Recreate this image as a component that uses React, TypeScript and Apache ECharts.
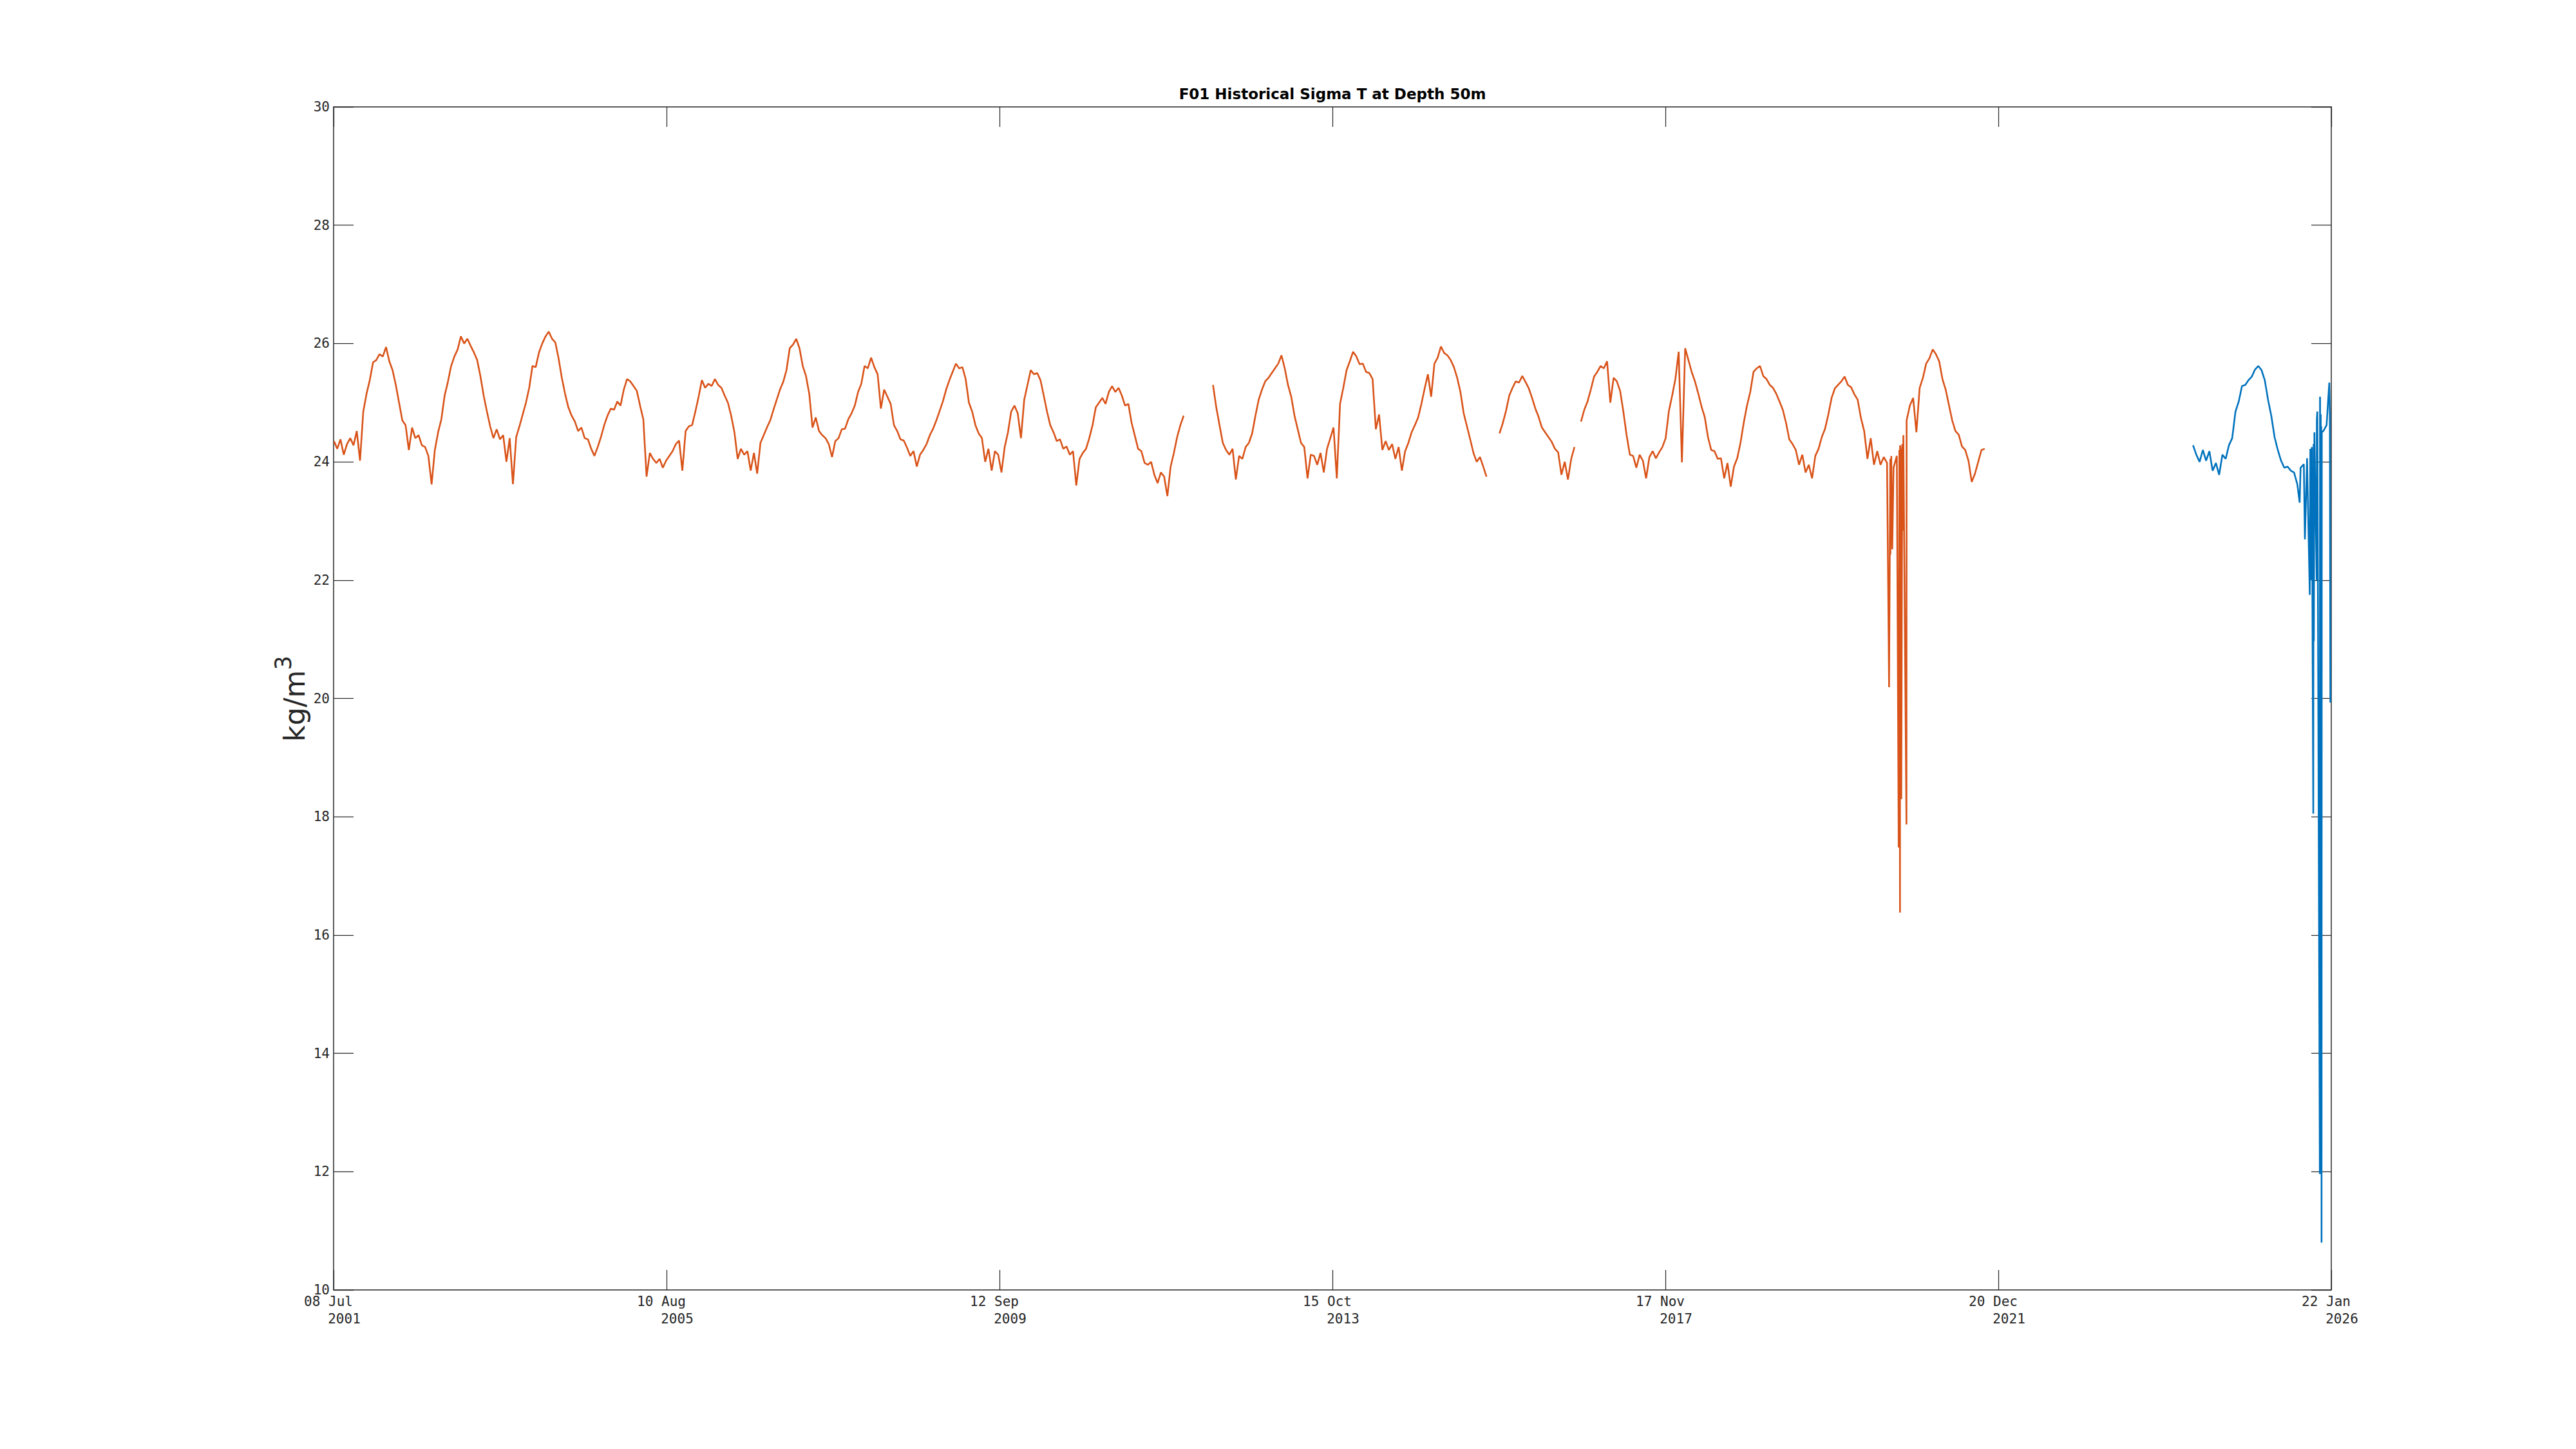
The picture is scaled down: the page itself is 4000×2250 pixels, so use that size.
import React, { useEffect, useRef } from "react";
import * as echarts from "echarts";

// ---------- axis definition ----------
const AXIS_START_UTC = Date.UTC(2001, 6, 8); // 08 Jul 2001
const AXIS_SPAN_DAYS = 8964; // to 22 Jan 2026
const TICK_DAYS = 1494;
const MONTHS = ["Jan", "Feb", "Mar", "Apr", "May", "Jun", "Jul", "Aug", "Sep", "Oct", "Nov", "Dec"];
const Y_MIN = 10;
const Y_MAX = 30;
const Y_STEP = 2;

const TITLE = "F01 Historical Sigma T at Depth 50m";

// ---------- data (decimal years, sampled every 0.04 yr) ----------
const SAMPLE_STEP = 0.04;

// historical mooring (orange)
const hist2001Start = 2001.52;
const hist2001 = [
  24.35, 24.22, 24.38, 24.12, 24.30, 24.40, 24.28, 24.52, 24.02, 24.85,
  25.15, 25.38, 25.68, 25.72, 25.82, 25.78, 25.94, 25.70, 25.55, 25.30,
  25.00, 24.70, 24.62, 24.20, 24.58, 24.40, 24.45, 24.28, 24.25, 24.10,
  23.62, 24.20, 24.50, 24.72, 25.12, 25.35, 25.62, 25.78, 25.90, 26.12,
  26.00, 26.08, 25.96, 25.85, 25.72, 25.45, 25.12, 24.85, 24.60, 24.40,
  24.55, 24.38, 24.45, 24.00, 24.40, 23.62, 24.42, 24.60, 24.80, 25.00,
  25.25, 25.62, 25.60, 25.85, 26.00, 26.12, 26.20, 26.08, 26.02, 25.75,
  25.42, 25.15, 24.92, 24.78, 24.68, 24.52, 24.58, 24.40, 24.38, 24.22,
  24.10, 24.25, 24.42, 24.62, 24.78, 24.90, 24.88, 25.02, 24.95, 25.22,
  25.40, 25.36, 25.28, 25.20, 24.95, 24.72, 23.75, 24.15, 24.05, 23.98,
  24.05, 23.90, 24.02, 24.10, 24.18, 24.30, 24.36, 23.85, 24.52, 24.60,
  24.62, 24.85, 25.10, 25.38, 25.25, 25.32, 25.28, 25.40, 25.30, 25.25,
  25.12, 25.00, 24.78, 24.50, 24.05, 24.22, 24.12, 24.18, 23.85, 24.15,
  23.80, 24.32, 24.45, 24.58, 24.70, 24.88, 25.05, 25.22, 25.35, 25.55,
  25.92, 25.98, 26.08, 25.92, 25.62, 25.45, 25.15, 24.58, 24.75, 24.52,
  24.45, 24.40, 24.30, 24.08, 24.35, 24.40, 24.55,
];

const hist2007Start = 2007.8;
const hist2007 = [
  24.56, 24.72, 24.82, 24.95, 25.18, 25.32, 25.62, 25.58, 25.76, 25.60,
  25.48, 24.90, 25.22, 25.10, 24.98, 24.62, 24.52, 24.38, 24.36, 24.24,
  24.10, 24.18, 23.92, 24.12, 24.20, 24.30, 24.45, 24.56, 24.70, 24.86,
  25.02, 25.22, 25.38, 25.52, 25.66, 25.58, 25.60, 25.40, 25.00, 24.85,
  24.62, 24.48, 24.40, 24.00, 24.22, 23.85, 24.18, 24.12, 23.82, 24.25,
  24.50, 24.85, 24.95, 24.82, 24.40, 25.05, 25.30, 25.55, 25.48, 25.50,
  25.38, 25.12, 24.85, 24.62, 24.50, 24.35, 24.38, 24.22, 24.26, 24.12,
  24.18, 23.60, 24.05, 24.15, 24.22, 24.40, 24.62, 24.92, 25.00, 25.08,
  24.98, 25.18, 25.28, 25.18, 25.25, 25.12, 24.95, 24.98, 24.66, 24.44,
  24.22, 24.18, 23.98, 23.95, 24.00, 23.78, 23.64, 23.82, 23.75, 23.42,
  23.92, 24.15, 24.42, 24.62, 24.78,
];

const hist2012Start = 2012.32;
const hist2012 = [
  25.30, 24.92, 24.62, 24.32, 24.20, 24.12, 24.22,
  23.70, 24.10, 24.05, 24.25, 24.32, 24.48, 24.78, 25.05, 25.22, 25.36,
  25.42, 25.50, 25.58, 25.66, 25.80, 25.58, 25.30, 25.10, 24.78, 24.55,
  24.32, 24.25, 23.72, 24.12, 24.10, 23.95, 24.15, 23.82, 24.22, 24.40,
  24.58, 23.72, 24.98, 25.25, 25.55, 25.70, 25.86,
];

const hist2014Start = 2014.08;
const hist2014 = [
  25.78, 25.65, 25.66, 25.52, 25.50, 25.40, 24.55, 24.80, 24.20, 24.35,
  24.20, 24.30, 24.05, 24.25, 23.85, 24.18, 24.32, 24.50, 24.62, 24.75,
  24.98, 25.24, 25.48, 25.10, 25.66, 25.76, 25.95, 25.84, 25.80, 25.72,
  25.60, 25.42, 25.18, 24.82, 24.60, 24.38, 24.15, 24.00, 24.08, 23.92,
  23.75,
];

const hist2015Start = 2015.84;
const hist2015 = [
  24.48, 24.65, 24.86, 25.12, 25.25, 25.36, 25.34, 25.45, 25.35, 25.24,
  25.08, 24.90, 24.76, 24.58, 24.50, 24.42, 24.34, 24.22, 24.16, 23.78,
  24.00, 23.70, 24.05, 24.25,
];

const hist2016Start = 2016.84;
const hist2016 = [
  24.68, 24.88, 25.02, 25.22, 25.44, 25.52, 25.62, 25.58, 25.70, 25.00,
  25.42, 25.36, 25.20, 24.85, 24.45, 24.12, 24.10, 23.90, 24.12, 24.02,
  23.72, 24.08, 24.18, 24.06, 24.16, 24.25, 24.40, 24.86, 25.12, 25.40,
  25.86, 23.99, 25.92, 25.72, 25.52, 25.36, 25.16, 24.94, 24.76, 24.42,
  24.20, 24.18, 24.05, 24.06, 23.72, 23.98, 23.58, 23.92, 24.06, 24.32,
  24.66, 24.95, 25.18, 25.52, 25.58, 25.62, 25.45, 25.40, 25.30, 25.25,
  25.15, 25.02, 24.88, 24.66, 24.38, 24.30, 24.20, 23.95, 24.12, 23.82,
  23.95, 23.72, 24.10, 24.22, 24.42, 24.56, 24.80, 25.08, 25.24, 25.30,
  25.36, 25.44, 25.30, 25.26, 25.14, 25.05, 24.74, 24.52, 24.05,
];

const hist2020Start = 2020.4;
const hist2020 = [
  24.40, 23.95, 24.18, 23.95, 24.08, 23.98, 24.05, 23.90, 24.10, 24.28,
  24.45, 24.70, 24.95, 25.08, 24.50, 25.25, 25.42, 25.66, 25.75, 25.90,
  25.82, 25.70, 25.40, 25.22, 24.96, 24.70, 24.52, 24.46, 24.26, 24.20,
  24.02, 23.66, 23.80, 24.00, 24.20, 24.22,
];

// isolated low spikes of the historical record [decimal year, value]
const histSpikes: [number, number][] = [
  [2020.625, 20.19], [2020.641, 22.43], [2020.652, 24.1], [2020.664, 22.52],
  [2020.743, 17.48], [2020.751, 24.2], [2020.759, 16.38], [2020.767, 24.2],
  [2020.775, 18.3], [2020.787, 24.3], [2020.799, 22.84], [2020.838, 17.87],
];

// recent mooring (blue)
const recentStart = 2024.36;
const recent = [
  24.28, 24.12, 24.00, 24.20, 24.02, 24.18, 23.85, 23.98, 23.78, 24.12,
  24.05, 24.28, 24.40, 24.85, 25.02, 25.28, 25.30, 25.38, 25.44, 25.56,
  25.62, 25.55, 25.38, 25.05, 24.78, 24.42, 24.20, 24.02, 23.90, 23.92,
  23.85, 23.82, 23.62, 23.90, 23.96, 24.06, 24.22, 24.30, 24.72, 25.05,
  24.52, 24.62, 24.80,
];

const recentSpikes: [number, number][] = [
  [2025.669, 23.31], [2025.733, 22.69], [2025.793, 21.75],
  [2025.809, 22.0], [2025.818, 24.25], [2025.836, 18.05],
  [2025.843, 20.97], [2025.85, 24.5], [2025.878, 22.0], [2025.886, 24.85],
  [2025.917, 11.96], [2025.919, 25.1], [2025.925, 12.3], [2025.928, 24.8],
  [2025.931, 12.0], [2025.934, 24.6], [2025.938, 10.8], [2025.941, 24.5],
  [2026.033, 25.34], [2026.046, 19.93], [2026.05, 24.9], [2026.054, 28.06],
  [2026.057, 24.9],
];

// ---------- helpers ----------
function yearToDay(y: number): number {
  const Y = Math.floor(y);
  const s = Date.UTC(Y, 0, 1);
  const e = Date.UTC(Y + 1, 0, 1);
  return (s + (y - Y) * (e - s) - AXIS_START_UTC) / 86400000;
}

type Piece = { start: number; values: number[] };

function buildRuns(runs: Piece[][], extras: [number, number][]) {
  const out: (number | string)[][] = [];
  runs.forEach((run, ri) => {
    let pts: [number, number][] = [];
    run.forEach((p) => {
      p.values.forEach((v, i) => pts.push([yearToDay(p.start + i * SAMPLE_STEP), v]));
    });
    const lo = pts[0][0];
    const hi = pts[pts.length - 1][0];
    extras.forEach(([y, v]) => {
      const d = yearToDay(y);
      if (d >= lo - 3 && d <= hi + 3) pts.push([d, v]);
    });
    pts.sort((a, b) => a[0] - b[0]);
    if (ri > 0) out.push([pts[0][0] - 1, "-"]);
    pts.forEach((p) => out.push(p));
  });
  return out;
}

const histData = buildRuns(
  [
    [{ start: hist2001Start, values: hist2001 }, { start: hist2007Start, values: hist2007 }],
    [{ start: hist2012Start, values: hist2012 }, { start: hist2014Start, values: hist2014 }],
    [{ start: hist2015Start, values: hist2015 }],
    [{ start: hist2016Start, values: hist2016 }, { start: hist2020Start, values: hist2020 }],
  ],
  histSpikes
);

const recentData = buildRuns([[{ start: recentStart, values: recent }]], recentSpikes);

const AX = "#262626";
const MONO = "'DejaVu Sans Mono', monospace";
const SANS = "'DejaVu Sans', sans-serif";

function dateLabel(v: number) {
  const d = new Date(AXIS_START_UTC + Math.round(v) * 86400000);
  const dd = String(d.getUTCDate()).padStart(2, "0");
  return `{a|${dd} ${MONTHS[d.getUTCMonth()]}}\n{b|${d.getUTCFullYear()}}`;
}

export default function App() {
  const ref = useRef<HTMLDivElement>(null);
  useEffect(() => {
    if (!ref.current) return;
    const chart = echarts.init(ref.current, null, { renderer: "svg" });
    const tickStyle = { color: AX, width: 1.2 };
    const lineStyle = { color: AX, width: 1.5 };
    const xBase = {
      type: "value",
      min: 0,
      max: AXIS_SPAN_DAYS,
      interval: TICK_DAYS,
      splitLine: { show: false },
      axisLine: { show: true, onZero: false, lineStyle },
      axisTick: { show: true, inside: true, length: 31, lineStyle: tickStyle },
    };
    const yBase = {
      type: "value",
      min: Y_MIN,
      max: Y_MAX,
      interval: Y_STEP,
      splitLine: { show: false },
      axisLine: { show: true, onZero: false, lineStyle },
      axisTick: { show: true, inside: true, length: 31, lineStyle: tickStyle },
    };
    chart.setOption({
      animation: false,
      backgroundColor: "#ffffff",
      grid: { left: 518, right: 380, top: 166, bottom: 247, containLabel: false },
      xAxis: [
        {
          ...xBase,
          position: "bottom",
          axisLabel: {
            show: true,
            showMinLabel: true,
            showMaxLabel: true,
            margin: 4,
            formatter: dateLabel,
            rich: {
              a: { fontFamily: MONO, fontSize: 21, color: AX, lineHeight: 27, padding: [0, 16, 0, 0] },
              b: { fontFamily: MONO, fontSize: 21, color: AX, lineHeight: 27, padding: [0, 0, 0, 33] },
            },
          },
        },
        { ...xBase, position: "top", axisLabel: { show: false } },
      ],
      yAxis: [
        {
          ...yBase,
          position: "left",
          axisLabel: {
            show: true,
            margin: 6,
            fontFamily: MONO,
            fontSize: 21,
            color: AX,
            showMinLabel: true,
            showMaxLabel: true,
          },
        },
        { ...yBase, position: "right", axisLabel: { show: false } },
      ],
      graphic: [
        {
          type: "text",
          x: 2069,
          y: 146,
          style: {
            text: TITLE,
            fontFamily: SANS,
            fontWeight: "bold",
            fontSize: 23,
            fill: "#000000",
            align: "center",
            verticalAlign: "middle",
          },
        },
        {
          type: "text",
          x: 457,
          y: 1085,
          rotation: Math.PI / 2,
          style: {
            text: "{m|kg/m}{s|3}",
            align: "center",
            verticalAlign: "middle",
            rich: {
              m: { fontFamily: SANS, fontSize: 44, fill: AX, color: AX, lineHeight: 70, verticalAlign: "middle" },
              s: { fontFamily: SANS, fontSize: 35, fill: AX, color: AX, lineHeight: 35, verticalAlign: "top" },
            },
          },
        },
      ],
      series: [
        {
          type: "line",
          name: "historical",
          data: histData,
          showSymbol: false,
          symbol: "none",
          connectNulls: false,
          lineStyle: { color: "#D95319", width: 2.6 },
          itemStyle: { color: "#D95319" },
          z: 3,
        },
        {
          type: "line",
          name: "recent",
          data: recentData,
          showSymbol: false,
          symbol: "none",
          connectNulls: false,
          lineStyle: { color: "#0072BD", width: 2.6 },
          itemStyle: { color: "#0072BD" },
          z: 4,
        },
      ],
    });
    return () => chart.dispose();
  }, []);
  return (
    <div
      ref={ref}
      style={{ position: "absolute", left: 0, top: 0, width: 4000, height: 2250, background: "#fff" }}
    />
  );
}
